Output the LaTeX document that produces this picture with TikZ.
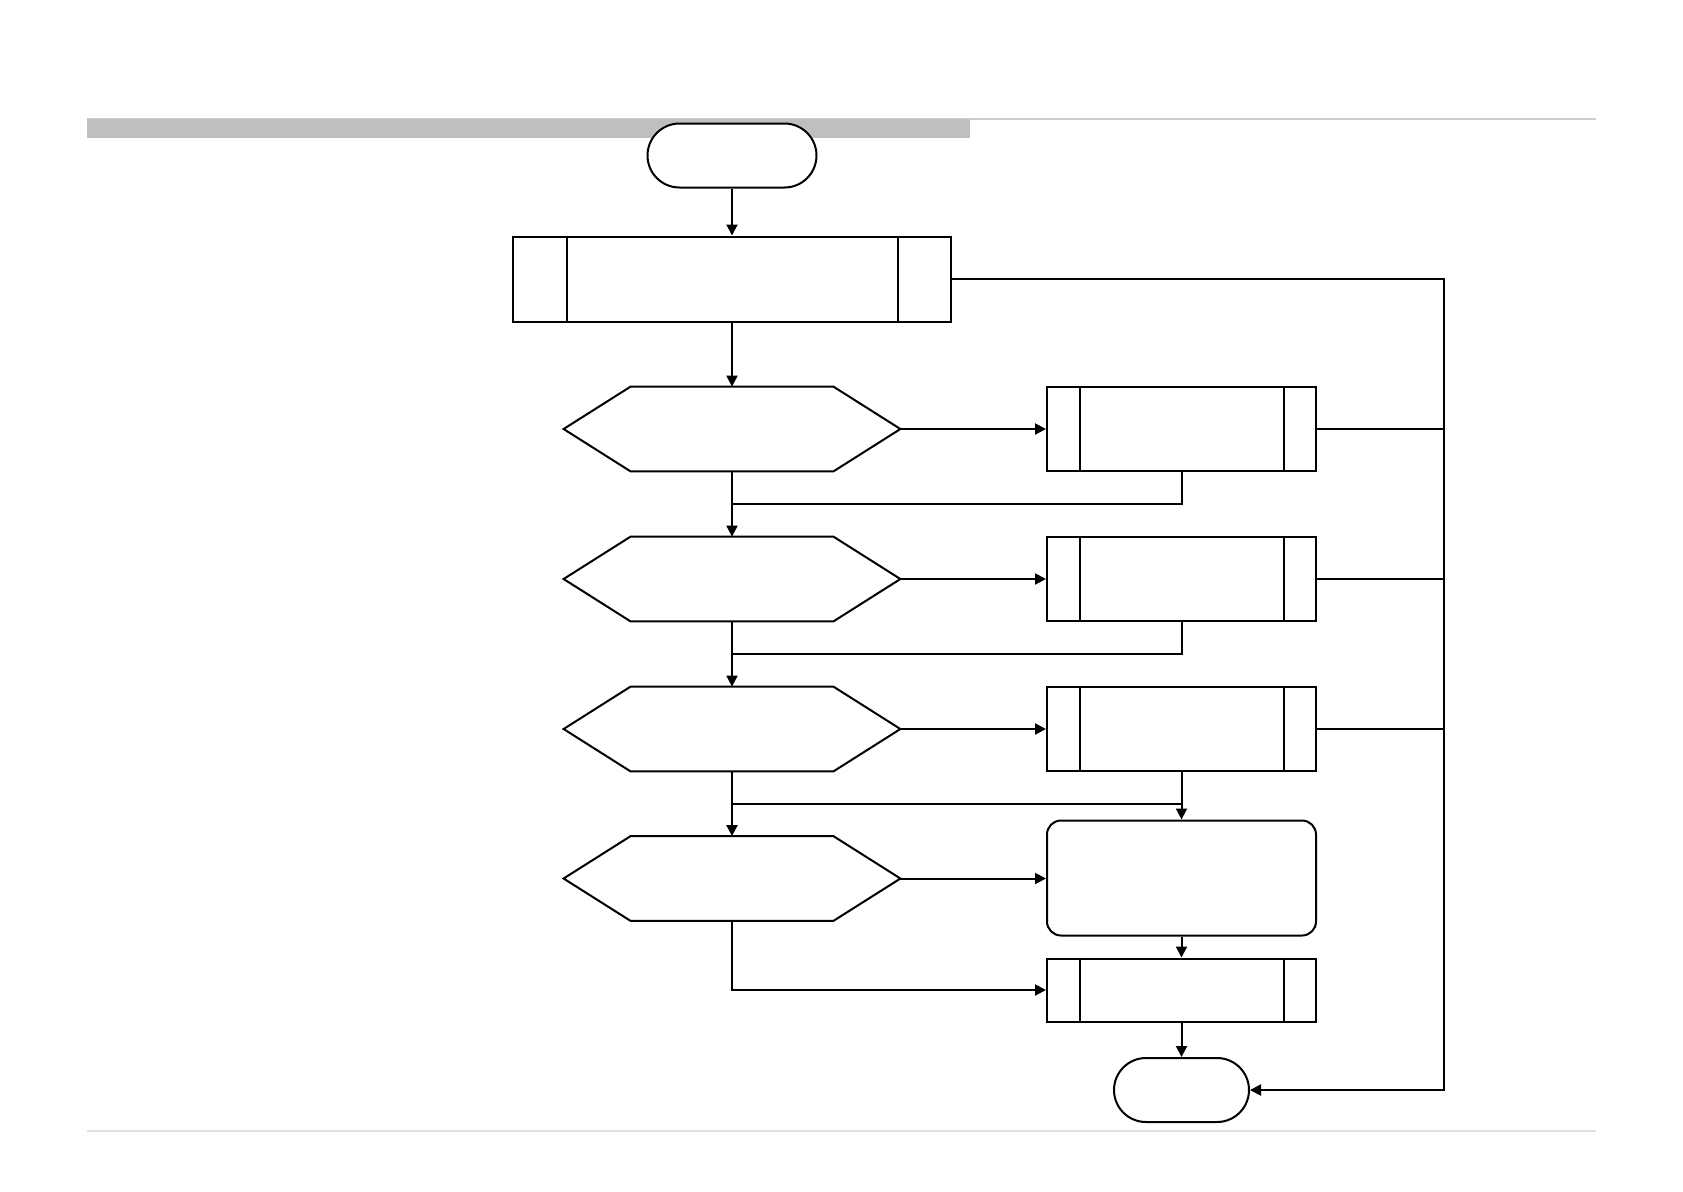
\documentclass[tikz,border=0pt]{standalone}
\usepackage{tikz}
\usetikzlibrary{calc,shapes.misc,arrows.meta}
\tikzset{
  flow/.style      = {draw=black, line width=1pt},
  arrowto/.style   = {flow, -{Triangle[length=5.5pt,width=5.5pt]}},
  terminal/.style  = {flow, rounded rectangle, fill=white, inner sep=0pt, minimum height=32pt},
  subproc/.style   = {flow, rectangle, fill=white, inner sep=0pt, minimum width=134.5pt, minimum height=42pt},
  action/.style    = {flow, rectangle, rounded corners=7pt, fill=white, inner sep=0pt, minimum width=134.5pt, minimum height=57.5pt},
  decision/.style  = {rectangle, inner sep=0pt, minimum width=168pt, minimum height=42pt},
  headbar/.style   = {fill=black!25, draw=none},
  rule/.style      = {draw=black!20, line width=1pt},
}

\begin{document}
\begin{tikzpicture}[x=0.5pt,y=-0.5pt]
  \useasboundingbox (0,0) rectangle (1683,1191);

  % page header and footer
  \draw[rule] (87,119) -- (1596,119);
  \fill[headbar] (87,119) rectangle (970,138);
  \draw[rule, draw=black!12] (87,1131) -- (1596,1131);

  % main column
  \node[terminal, minimum width=84.5pt] (start) at (732,155.5) {};
  \node[subproc, minimum width=219pt, minimum height=42.5pt] (init) at (732,279) {};
  \node[decision] (q1) at (732,429) {};
  \node[decision] (q2) at (732,579) {};
  \node[decision] (q3) at (732,729) {};
  \node[decision] (q4) at (732,878.5) {};
  \foreach \q in {q1,q2,q3,q4}
    \draw[flow] (\q.west) -- ([xshift=33.5pt]\q.north west) -- ([xshift=-33.5pt]\q.north east)
      -- (\q.east) -- ([xshift=-33.5pt]\q.south east) -- ([xshift=33.5pt]\q.south west) -- cycle;

  % right column
  \node[subproc] (p1) at (1181.5,429) {};
  \node[subproc] (p2) at (1181.5,579) {};
  \node[subproc] (p3) at (1181.5,729) {};
  \node[action] (act) at (1181.5,878) {};
  \node[subproc, minimum height=31.5pt] (p4) at (1181.5,990) {};
  \node[terminal, minimum width=67.5pt] (stop) at (1181.5,1090) {};

  % side bars of the sub-process boxes
  \draw[flow] ([xshift=27.5pt]init.north west) -- ([xshift=27.5pt]init.south west);
  \draw[flow] ([xshift=-27pt]init.north east) -- ([xshift=-27pt]init.south east);
  \foreach \p in {p1,p2,p3,p4} {
    \draw[flow] ([xshift=17pt]\p.north west) -- ([xshift=17pt]\p.south west);
    \draw[flow] ([xshift=-16.5pt]\p.north east) -- ([xshift=-16.5pt]\p.south east);
  }

  % connectors
  \draw[arrowto] (start) -- (init);
  \draw[arrowto] (init) -- (q1);
  \draw[arrowto] (q1) -- (q2);
  \draw[arrowto] (q2) -- (q3);
  \draw[arrowto] (q3) -- (q4);
  \draw[arrowto] (q1) -- (p1);
  \draw[arrowto] (q2) -- (p2);
  \draw[arrowto] (q3) -- (p3);
  \draw[arrowto] (q4.east) -- (q4.east -| act.west);
  \draw[arrowto] (q4.south) |- (p4.west);
  \draw[arrowto] (p3) -- (act);
  \draw[arrowto] (act) -- (p4);
  \draw[arrowto] (p4) -- (stop);

  % merges back into the main column
  \coordinate (m1) at ($(q1.south)!0.5!(q2.north)$);
  \coordinate (m2) at ($(q2.south)!0.5!(q3.north)$);
  \coordinate (m3) at ($(q3.south)!0.5!(q4.north)$);
  \draw[flow] (p1.south) |- (m1);
  \draw[flow] (p2.south) |- (m2);
  \draw[flow] (m3) -- (m3 -| p3.south);

  % right rail to the end
  \coordinate (railtop) at (1444,279);
  \coordinate (railbot) at (1444,1090);
  \draw[arrowto] (init.east) -- (railtop) -- (railbot) -- (stop.east);
  \foreach \p in {p1,p2,p3}
    \draw[flow] (\p.east) -- (\p.east -| railtop);
\end{tikzpicture}
\end{document}
